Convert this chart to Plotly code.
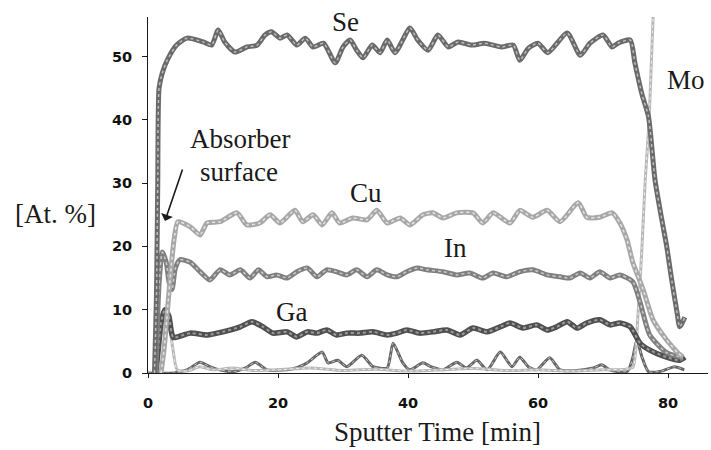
import plotly.graph_objects as go

# Depth profile: atomic concentration vs sputter time
se_t = [1.0, 1.3, 1.5, 1.7, 2.2, 3.0, 4.4, 6.0, 8.5, 9.8, 10.8, 11.8, 13.4, 15.2, 16.8, 18.0, 19.0,
        20.3, 21.4, 22.9, 24.2, 25.4, 27.0, 28.8, 30.0, 31.1, 32.1, 33.1, 34.5, 35.7, 36.8, 38.0,
        40.3, 41.5, 43.1, 44.6, 46.2, 47.7, 49.8, 51.8, 54.4, 56.2, 57.2, 58.5, 60.0, 61.5, 64.5,
        66.5, 68.0, 70.0, 71.4, 72.3, 74.2, 74.9, 76.0, 77.0, 78.0, 79.0, 79.8, 80.6, 81.4, 81.8, 82.6]
se_v = [0, 12, 30, 45, 47.4, 49.5, 51.8, 52.9, 52.3, 51.8, 54.2, 52.3, 50.7, 51.5, 51.8, 53.4, 53.9,
        52.9, 53.4, 51.8, 52.9, 51.5, 52.1, 49.0, 51.5, 52.6, 51.0, 49.8, 51.8, 50.6, 52.6, 50.6,
        54.5, 52.6, 51.0, 53.4, 51.5, 52.3, 51.8, 52.1, 51.5, 51.8, 49.4, 51.3, 52.1, 50.6, 53.7,
        50.2, 52.1, 53.4, 51.5, 52.1, 52.6, 49.0, 44.0, 40.5, 30.5, 24.5, 20.0, 14.5, 9.5, 7.3, 8.8]

cu_t = [2.0, 2.5, 3.0, 3.5, 4.0, 4.6, 6.5, 8.0, 9.1, 11.1, 13.7, 15.2, 17.2, 18.8, 20.3, 22.6, 23.8,
        25.4, 26.8, 28.3, 29.5, 31.5, 33.7, 35.2, 36.8, 38.8, 40.3, 42.3, 43.8, 45.4, 47.5, 50.0,
        51.5, 53.1, 55.7, 57.2, 59.2, 61.4, 63.4, 66.2, 67.5, 69.5, 71.4, 72.6, 73.7, 74.6, 76.2,
        77.7, 79.8, 81.5, 82.3]
cu_v = [0, 4, 10, 16, 21, 23.9, 23.1, 21.8, 23.7, 23.9, 25.3, 23.4, 23.7, 25.0, 23.7, 25.7, 23.9,
        25.0, 23.4, 25.3, 23.7, 24.5, 24.2, 25.7, 23.7, 24.5, 23.4, 25.0, 25.3, 24.5, 25.3, 25.3,
        23.7, 25.3, 23.7, 25.7, 24.6, 25.7, 23.9, 26.9, 24.6, 24.6, 25.3, 23.7, 21.0, 17.4, 13.1,
        8.4, 5.2, 3.2, 2.5]

in_t = [1.2, 1.7, 2.2, 2.8, 3.3, 3.7, 4.2, 4.9, 6.5, 8.0, 9.5, 11.1, 12.6, 14.2, 15.7, 17.0, 18.3,
        19.8, 21.4, 22.9, 24.5, 26.0, 27.5, 29.0, 30.6, 32.1, 33.7, 35.2, 36.8, 38.3, 39.8, 41.4,
        42.9, 45.4, 47.5, 49.5, 51.5, 53.1, 55.2, 57.2, 59.2, 61.4, 63.4, 64.9, 66.5, 68.0, 69.5,
        71.1, 72.6, 74.6, 75.7, 77.2, 79.8, 82.3]
in_v = [0, 14, 19.1, 17.5, 14.0, 13.2, 16.5, 17.9, 17.5, 16.0, 14.7, 16.3, 15.5, 16.3, 15.0, 16.3, 15.2,
        15.5, 15.0, 16.0, 16.6, 15.2, 16.3, 16.0, 15.5, 16.3, 15.2, 16.3, 15.5, 15.2, 16.0, 16.6,
        16.3, 16.0, 15.5, 15.8, 15.0, 15.8, 15.2, 16.0, 16.3, 15.5, 15.2, 15.0, 15.8, 15.0, 16.0,
        15.0, 15.5, 14.4, 11.2, 6.0, 3.2, 2.4]

ga_t = [1.2, 1.6, 2.0, 2.6, 3.2, 3.6, 3.9, 6.5, 9.1, 11.5, 14.2, 16.0, 17.7, 19.2, 21.4, 22.9, 24.5,
        26.0, 27.5, 29.0, 30.6, 32.6, 34.6, 36.8, 38.3, 39.8, 41.8, 43.8, 46.0, 48.0, 50.0, 52.2,
        54.2, 55.7, 57.7, 59.8, 61.4, 62.9, 64.5, 66.0, 67.5, 69.5, 71.1, 72.6, 74.2, 75.7, 77.2,
        79.8, 81.8, 82.6]
ga_v = [0, 4, 8, 10, 9, 6.5, 5.6, 6.3, 6.0, 6.5, 7.3, 8.1, 7.3, 6.3, 6.5, 5.7, 6.5,
        6.3, 6.8, 6.0, 6.3, 6.3, 6.5, 6.0, 6.3, 6.8, 6.3, 6.5, 6.8, 6.0, 7.1, 6.5,
        7.3, 7.9, 7.1, 7.6, 6.8, 7.3, 8.1, 7.1, 7.9, 8.4, 7.6, 7.9, 7.3, 4.7, 3.6,
        2.5, 2.0, 2.5]

mo_t = [1.3, 2.0, 2.6, 3.2, 3.8, 4.5, 6.0, 8.0, 10.0, 13.0, 16.0, 20.0, 25.0, 30.0, 35.0, 40.0,
        45.0, 50.0, 55.0, 60.0, 65.0, 70.0, 73.5, 74.6, 75.4, 76.0, 76.5, 77.1, 77.7, 78.3]
mo_v = [0, 6, 9, 8, 4, 0.5, 0.3, 1.0, 0.5, 0.8, 0.4, 0.5, 0.8, 0.4, 0.6, 0.3,
        0.5, 0.7, 0.4, 0.5, 0.3, 0.5, 0.6, 0.9, 9.5, 20.0, 30.5, 40.0, 56.0, 66.0]

trace_t = [0.0, 4.0, 6.0, 8.0, 9.5, 11.0, 13.0, 15.0, 16.5, 18.3, 21.4, 23.0, 24.5, 26.8, 27.7, 29.2,
           30.6, 32.9, 34.6, 36.8, 37.7, 39.2, 40.3, 42.3, 43.5, 45.4, 47.5, 49.0, 50.6, 52.2, 54.2,
           56.0, 57.2, 58.5, 59.8, 61.8, 63.4, 66.0, 68.5, 69.8, 71.0, 72.6, 73.8, 74.6, 75.2, 76.0,
           77.0, 79.0, 81.0, 82.5]
trace_v = [0, 0, 0.5, 1.7, 1.0, 0.5, 0.2, 0.8, 1.7, 0.5, 0.5, 0.9, 1.6, 3.3, 1.6, 2.0,
           1.0, 2.8, 1.0, 0.8, 4.7, 1.6, 0.5, 1.6, 1.0, 0.5, 1.7, 0.8, 2.0, 0.5, 3.3,
           1.0, 2.5, 1.0, 0.5, 2.4, 0.5, 0.4, 0.8, 1.3, 0.5, 0.2, 0.3, 2.5, 5.2, 2.5,
           0.2, 0.3, 1.0, 0.5]

x_ticks = [0, 20, 40, 60, 80]
y_ticks = [0, 10, 20, 30, 40, 50]

# element label text and its anchor (pixel position in the 711x450 canvas)
labels = [("Se", 345, 22), ("Mo", 686, 80), ("Cu", 366, 193), ("In", 455, 248),
          ("Ga", 291, 312), ("Absorber", 240, 139), ("surface", 239, 172)]

W, H = 711, 450
L, R, T, B = 148, 3, 17, 77
PW, PH = W - L - R, H - T - B


def paper(px, py):
    return (px - L) / PW, (H - B - py) / PH


# (t, v, base colour, width, speckle colour)
series = [
    (trace_t, trace_v, "#666666", 3, "#c4c4c4"),
    (mo_t, mo_v, "#b8b8b8", 3, "#eeeeee"),
    (ga_t, ga_v, "#505050", 5.5, "#9c9c9c"),
    (in_t, in_v, "#808080", 5, "#cacaca"),
    (cu_t, cu_v, "#a8a8a8", 5, "#e4e4e4"),
    (se_t, se_v, "#6a6a6a", 5, "#bebebe"),
]

fig = go.Figure()
for t, v, col, w, speck in series:
    fig.add_trace(go.Scatter(x=t, y=v, mode="lines",
                             line=dict(color=col, width=w, shape="spline", smoothing=0.6),
                             hoverinfo="skip", showlegend=False))
    fig.add_trace(go.Scatter(x=t, y=v, mode="lines",
                             line=dict(color=speck, width=max(w - 3.5, 1), dash="dot",
                                       shape="spline", smoothing=0.6),
                             hoverinfo="skip", showlegend=False))

serif = dict(family="Liberation Serif, Times New Roman, serif", size=27, color="#1a1a1a")
ann = []
for text, px, py in labels:
    x, y = paper(px, py)
    ann.append(dict(text=text, x=x, y=y, xref="paper", yref="paper", showarrow=False,
                    xanchor="center", yanchor="middle", font=serif))

# axis titles
x, y = paper(55, 214)
ann.append(dict(text="[At. %]", x=x, y=y, xref="paper", yref="paper", showarrow=False,
                xanchor="center", yanchor="middle", font=serif))
x, y = paper(437, 432)
ann.append(dict(text="Sputter Time [min]", x=x, y=y, xref="paper", yref="paper", showarrow=False,
                xanchor="center", yanchor="middle", font=serif))

# arrow pointing at the absorber surface
x, y = paper(165, 221)
ann.append(dict(text="", x=x, y=y, xref="paper", yref="paper", showarrow=True,
                ax=18, ay=-53, arrowhead=1, arrowsize=1.3, arrowwidth=1.6, arrowcolor="#1a1a1a"))

tickfont = dict(family="DejaVu Sans, Verdana, sans-serif", size=14.5, color="#111111", weight=600)
fig.update_layout(
    width=W, height=H,
    margin=dict(l=L, r=R, t=T, b=B, pad=0),
    paper_bgcolor="white", plot_bgcolor="white",
    annotations=ann,
    xaxis=dict(range=[0, PW / 6.5], tickvals=x_ticks, ticks="outside", ticklen=4,
               tickwidth=1, tickcolor="#1a1a1a", showline=True, linecolor="#1a1a1a",
               linewidth=1, showgrid=False, zeroline=False, tickfont=tickfont,
               ticklabelstandoff=13, layer="below traces"),
    yaxis=dict(range=[0, PH / 6.33], tickvals=y_ticks, ticks="outside", ticklen=5,
               tickwidth=1, tickcolor="#1a1a1a", showline=True, linecolor="#1a1a1a",
               linewidth=1, showgrid=False, zeroline=False, tickfont=tickfont,
               ticklabelstandoff=7, layer="below traces"),
)

fig.write_html("out.html")
